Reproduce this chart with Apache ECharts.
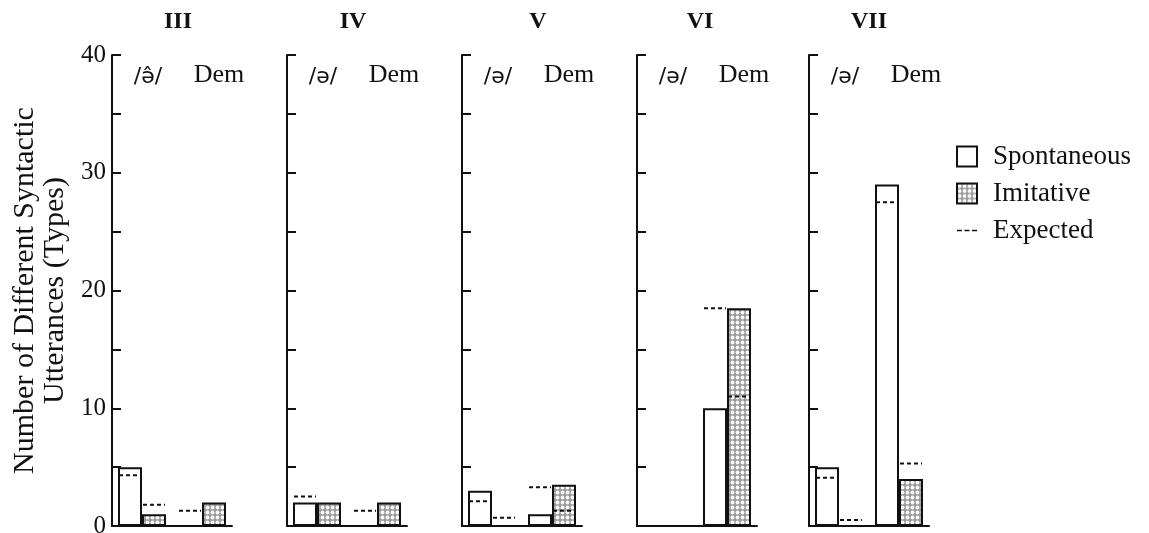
<!DOCTYPE html>
<html><head><meta charset="utf-8">
<script src="https://cdn.jsdelivr.net/npm/echarts@6/dist/echarts.min.js"></script>
<style>html,body{margin:0;padding:0;background:#fff}#c{width:1149px;height:533px}</style>
</head><body><div id="c"></div><script>
// ---- data ----
const panels = ['III', 'IV', 'V', 'VI', 'VII'];
const categories = [['/ə̂/', 'Dem'], ['/ə/', 'Dem'], ['/ə/', 'Dem'], ['/ə/', 'Dem'], ['/ə/', 'Dem']];
const spontaneous = [[5, 0], [2, 0], [3, 1], [0, 10], [5, 29]];
const imitative = [[1, 2], [2, 2], [0, 3.5], [0, 18.5], [0, 4]];
const expectedSpontaneous = [[4.3, 1.3], [2.5, 1.3], [2.1, 3.3], [null, 18.5], [4.1, 27.5]];
const expectedImitative = [[1.8, null], [null, null], [0.7, 1.3], [null, 11], [0.5, 5.3]];
const yTickLabels = [0, 10, 20, 30, 40];
const yAxisTitle = 'Number of Different Syntactic\nUtterances (Types)';
const legendNames = ['Spontaneous', 'Imitative', 'Expected'];

// ---- layout / style ----
const gridLefts = [112, 287, 462, 637, 809];
const titleShift = [6, 6, 16, 3, 0];
const FONT = 'Liberation Serif';
const INK = '#111';
const BAR_W = 24;

const pc = document.createElement('canvas');
pc.width = 5; pc.height = 5;
const g = pc.getContext('2d');
g.fillStyle = '#9a9a9a'; g.fillRect(0, 0, 5, 5);
g.fillStyle = '#fafafa'; g.beginPath(); g.arc(2.5, 2.5, 1.9, 0, Math.PI * 2); g.fill();
const stipple = { image: pc, repeat: 'repeat' };

const grid = [], xAxis = [], yAxis = [], series = [];
panels.forEach((p, i) => {
  grid.push({ left: gridLefts[i], top: 55, width: 120, bottom: 7, containLabel: false, outerBoundsMode: 'none' });
  xAxis.push({
    gridIndex: i, type: 'category', data: categories[i],
    axisLine: { show: true, lineStyle: { color: INK, width: 2 } },
    axisTick: { show: false }, axisLabel: { show: false }
  });
  xAxis.push({
    gridIndex: i, type: 'category', position: 'top', data: categories[i],
    axisLine: { show: false }, axisTick: { show: false },
    axisLabel: {
      inside: true, margin: 7, interval: 0, hideOverlap: false, color: INK, fontFamily: FONT, fontSize: 26,
      formatter: (v, idx) => idx === 0 ? '{a|' + v + '}' : '{b|' + v + '}',
      rich: {
        a: { padding: [4, 0, 0, 12], fontFamily: 'DejaVu Sans', fontSize: 22, color: INK },
        b: { padding: [0, 0, 0, 34], fontFamily: FONT, fontSize: 26, color: INK }
      }
    },
    name: p, nameLocation: 'middle', nameGap: 21,
    nameTextStyle: { fontFamily: FONT, fontSize: 24, fontWeight: 'bold', color: INK, padding: [0, 0, 0, 2 * titleShift[i]] }
  });
  yAxis.push({
    gridIndex: i, type: 'value', min: 0, max: 40, interval: 5,
    axisLine: { show: true, lineStyle: { color: INK, width: 2 } },
    axisTick: { show: true, inside: true, length: 9, lineStyle: { color: INK, width: 2 } },
    splitLine: { show: false },
    axisLabel: {
      show: i === 0, margin: 6, color: INK, fontFamily: FONT, fontSize: 25,
      formatter: v => yTickLabels.includes(v) ? String(v) : ''
    },
    name: i === 0 ? yAxisTitle : '', nameLocation: 'middle', nameGap: 42,
    nameTextStyle: { fontFamily: FONT, fontSize: 30, lineHeight: 30, color: INK }
  });
  series.push({
    name: legendNames[0], type: 'bar', xAxisIndex: 2 * i, yAxisIndex: i,
    data: spontaneous[i], barWidth: BAR_W, barGap: '0%',
    itemStyle: { color: '#fff', borderColor: INK, borderWidth: 2 }, z: 2
  });
  series.push({
    name: legendNames[1], type: 'bar', xAxisIndex: 2 * i, yAxisIndex: i,
    data: imitative[i], barWidth: BAR_W, barGap: '0%',
    itemStyle: { color: stipple, borderColor: INK, borderWidth: 2 }, z: 2
  });
  const exp = [];
  [expectedSpontaneous[i], expectedImitative[i]].forEach((arr, slot) => {
    arr.forEach((v, c) => { if (v !== null) exp.push([c, v, slot]); });
  });
  series.push({
    name: legendNames[2], type: 'custom', xAxisIndex: 2 * i, yAxisIndex: i,
    data: exp, encode: { x: 0, y: 1 }, z: 5,
    itemStyle: { color: INK },
    renderItem: (params, api) => {
      const pt = api.coord([api.value(0), api.value(1)]);
      const x0 = api.value(2) === 0 ? pt[0] - BAR_W : pt[0];
      return {
        type: 'line',
        shape: { x1: x0 + 1, y1: pt[1], x2: x0 + BAR_W - 1, y2: pt[1] },
        style: { stroke: INK, lineWidth: 2, lineDash: [4, 3] }
      };
    }
  });
});

const chart = echarts.init(document.getElementById('c'), null, { renderer: 'canvas' });
chart.setOption({
  animation: false,
  backgroundColor: '#fff',
  grid, xAxis, yAxis, series,
  legend: {
    orient: 'vertical', left: 951, top: 138, itemWidth: 20, itemHeight: 20, itemGap: 10,
    selectedMode: false,
    textStyle: { fontFamily: FONT, fontSize: 27, color: INK, padding: [0, 0, 0, 11] },
    data: [
      { name: legendNames[0], icon: 'rect' },
      { name: legendNames[1], icon: 'rect' },
      {
        name: legendNames[2],
        icon: 'path://M0,0h0.01v0.01h-0.01zM19.99,19.99h0.01v0.01h-0.01zM0,9.3h5v1.4h-5zM7.5,9.3h5v1.4h-5zM15,9.3h5v1.4h-5z',
        itemStyle: { color: INK, borderWidth: 0 }
      }
    ]
  }
});
</script></body></html>
